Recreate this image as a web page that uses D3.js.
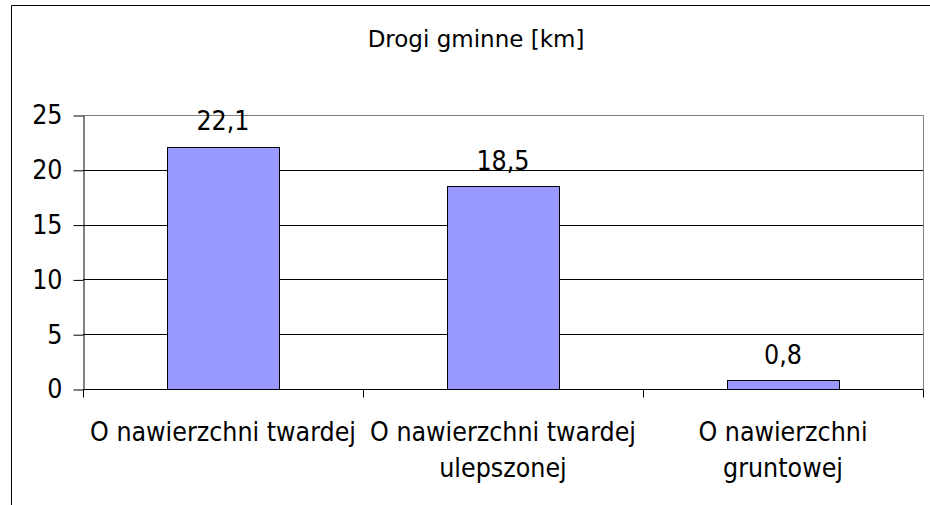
<!DOCTYPE html>
<html><head><meta charset="utf-8">
<script src="https://cdn.jsdelivr.net/npm/d3@7"></script>
<style>body{margin:0;background:#fff}svg{display:block}text{font-family:"DejaVu Sans Condensed","DejaVu Sans",sans-serif;fill:#000}</style>
</head><body>
<script>
const title = "Drogi gminne [km]";
const categories = [["O nawierzchni twardej"], ["O nawierzchni twardej", "ulepszonej"], ["O nawierzchni", "gruntowej"]];
const values = [22.1, 18.5, 0.8];
const valueLabels = ["22,1", "18,5", "0,8"];
const yTicks = [0, 5, 10, 15, 20, 25];

const W = 930, H = 505;
const m = {left: 83, top: 115, right: 923, bottom: 389};
const FS = 26.5;
const svg = d3.select("body").append("svg").attr("width", W).attr("height", H);

svg.append("path").attr("d", `M11.5,${H} V5.5 H${W}`).attr("fill", "none").attr("stroke", "#000");

const x = d3.scaleBand().domain(d3.range(categories.length)).range([m.left, m.right]).paddingInner(0.6).paddingOuter(0.3);
const xb = d3.scaleBand().domain(d3.range(categories.length)).range([m.left, m.right]);
const y = d3.scaleLinear().domain([0, 25]).range([m.bottom, m.top]);

svg.append("text").attr("x", 476).attr("y", 47).attr("text-anchor", "middle")
  .attr("font-size", 23).style("font-family", "'DejaVu Sans',sans-serif").text(title);

// gridlines
svg.append("g").selectAll("line").data(yTicks.filter(d => d > 0 && d < 25)).join("line")
  .attr("x1", m.left).attr("x2", m.right).attr("y1", d => Math.round(y(d)) + 0.5).attr("y2", d => Math.round(y(d)) + 0.5)
  .attr("stroke", "#000");
// plot border top & right
svg.append("path").attr("d", `M${m.left},${Math.round(y(25)) + 0.5} H${m.right + 0.5} V${m.bottom}`).attr("fill", "none").attr("stroke", "#808080");

// bars
svg.append("g").selectAll("rect").data(values).join("rect")
  .attr("x", (d, i) => Math.round(x(i)) + 0.5).attr("width", Math.round(x.bandwidth()))
  .attr("y", d => Math.round(y(d)) + 0.5).attr("height", d => Math.round(y(0)) - Math.round(y(d)))
  .attr("fill", "#9999FF").attr("stroke", "#000");

// y axis
const ya = svg.append("g").attr("transform", `translate(${m.left + 0.5},0.5)`)
  .call(d3.axisLeft(y).tickValues(yTicks).tickSize(10).tickSizeOuter(0).tickPadding(11));
ya.select(".domain").attr("stroke", "#000");
ya.selectAll(".tick line").attr("stroke", "#000");
ya.selectAll("text").attr("font-size", FS).attr("font-family", "'DejaVu Sans Condensed','DejaVu Sans',sans-serif");

// x axis
const xa = svg.append("g").attr("transform", `translate(0.5,${Math.round(y(0)) + 0.5})`);
xa.append("line").attr("x1", m.left).attr("x2", m.right).attr("stroke", "#000");
xa.selectAll("line.t").data(d3.range(categories.length + 1)).join("line").attr("class", "t")
  .attr("x1", i => Math.round(i < categories.length ? xb(i) : m.right)).attr("x2", i => Math.round(i < categories.length ? xb(i) : m.right))
  .attr("y1", 0).attr("y2", 8).attr("stroke", "#000");

// category labels
const cl = svg.append("g").selectAll("text").data(categories).join("text")
  .attr("x", (d, i) => xb(i) + xb.bandwidth() / 2).attr("y", 441).attr("text-anchor", "middle").attr("font-size", FS);
cl.selectAll("tspan").data(d => d).join("tspan")
  .attr("x", function() { return this.parentNode.getAttribute("x"); })
  .attr("dy", (d, j) => j === 0 ? 0 : 36).text(d => d);

// value labels
svg.append("g").selectAll("text").data(values).join("text")
  .attr("x", (d, i) => x(i) + x.bandwidth() / 2).attr("y", d => y(d) - 16.5)
  .attr("text-anchor", "middle").attr("font-size", FS).text((d, i) => valueLabels[i]);
</script>
</body></html>
